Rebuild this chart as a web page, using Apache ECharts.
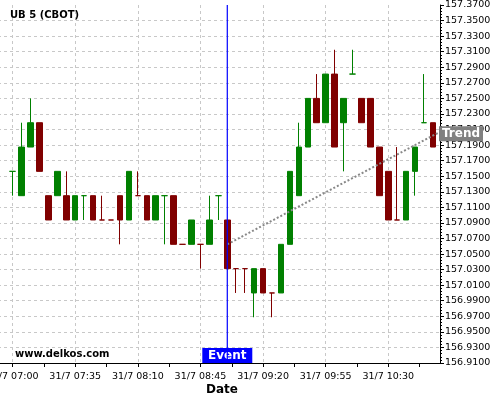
<!DOCTYPE html>
<html>
<head>
<meta charset="utf-8">
<script src="https://cdn.jsdelivr.net/npm/echarts@6/dist/echarts.min.js"></script>
<style>
  html, body { margin: 0; padding: 0; background: #fff; overflow: hidden; }
  /* plot starts left of the window so the 07:00 bar sits 10px in */
  #chart { width: 553px; height: 400px; margin-left: -53px; }
</style>
</head>
<body>
<div id="chart"></div>
<script>
// 5 min bars, label every 7th bar
var timeLabels = ['31/7 07:00', '31/7 07:35', '31/7 08:10', '31/7 08:45', '31/7 09:20', '31/7 09:55', '31/7 10:30']

var opens = [
  157.15625, 157.125, 157.1875, 157.21875, 157.125, 157.125, 157.125, 157.09375,
  157.125, 157.125, 157.09375, 157.09375, 157.125, 157.09375, 157.125, 157.125,
  157.09375, 157.125, 157.125, 157.0625, 157.0625, 157.0625, 157.0625, 157.125,
  157.09375, 157.03125, 157.03125, 157.0, 157.03125, 157.0, 157.0, 157.0625,
  157.125, 157.1875, 157.25, 157.21875, 157.28125, 157.21875, 157.28125, 157.25,
  157.25, 157.1875, 157.15625, 157.09375, 157.09375, 157.15625, 157.21875, 157.21875
]
var closes = [
  157.15625, 157.1875, 157.21875, 157.15625, 157.09375, 157.15625, 157.09375, 157.125,
  157.125, 157.09375, 157.09375, 157.09375, 157.09375, 157.15625, 157.125, 157.09375,
  157.125, 157.125, 157.0625, 157.0625, 157.09375, 157.0625, 157.09375, 157.125,
  157.03125, 157.03125, 157.03125, 157.03125, 157.0, 157.0, 157.0625, 157.15625,
  157.1875, 157.25, 157.21875, 157.28125, 157.1875, 157.25, 157.28125, 157.21875,
  157.1875, 157.125, 157.09375, 157.09375, 157.15625, 157.1875, 157.21875, 157.1875
]
var lows = [
  157.125, 157.125, 157.1875, 157.15625, 157.09375, 157.125, 157.09375, 157.09375,
  157.09375, 157.09375, 157.09375, 157.09375, 157.0625, 157.09375, 157.125, 157.09375,
  157.09375, 157.0625, 157.0625, 157.0625, 157.0625, 157.03125, 157.0625, 157.09375,
  157.03125, 157.0, 157.0, 156.96875, 157.0, 156.96875, 157.0, 157.0625,
  157.125, 157.1875, 157.21875, 157.21875, 157.1875, 157.15625, 157.28125, 157.21875,
  157.1875, 157.125, 157.09375, 157.09375, 157.09375, 157.125, 157.21875, 157.1875
]
var highs = [
  157.15625, 157.21875, 157.25, 157.21875, 157.125, 157.15625, 157.15625, 157.125,
  157.125, 157.125, 157.125, 157.09375, 157.125, 157.15625, 157.15625, 157.125,
  157.125, 157.125, 157.125, 157.0625, 157.09375, 157.0625, 157.125, 157.125,
  157.09375, 157.03125, 157.03125, 157.03125, 157.03125, 157.0, 157.0625, 157.15625,
  157.21875, 157.25, 157.28125, 157.28125, 157.3125, 157.25, 157.3125, 157.25,
  157.25, 157.1875, 157.15625, 157.1875, 157.15625, 157.1875, 157.28125, 157.21875
]
// bars with open == close drawn green in the source
var dojiUp = [0, 8, 17, 23, 38, 46]

var eventBar = 24
var trendStart = [24, 157.0625]
var trendEnd = [47.78, 157.207]

var yMin = 156.91
var yMax = 157.37

var UP = '#008000'
var DOWN = '#800000'
var FONT = 'DejaVu Sans'
var SHIFT = 53 // px of the chart hidden left of the window

var candles = opens.map(function(o, i) {
  var item = { value: [i, o, closes[i], lows[i], highs[i]] }
  if (o === closes[i]) {
    var c = dojiUp.indexOf(i) >= 0 ? UP : DOWN
    item.itemStyle = { color: c, color0: c, borderColor: c, borderColor0: c, borderColorDoji: c }
  }
  return item
})

function timeLabel(v) {
  var k = v / 7
  if (v < 0 || Math.abs(k - Math.round(k)) > 1e-6) return ''
  return timeLabels[Math.round(k)] || ''
}

var chart = echarts.init(document.getElementById('chart'))
chart.setOption({
  animation: false,
  backgroundColor: '#fff',
  title: [
    { text: 'UB 5 (CBOT)', left: SHIFT + 10, top: 10, padding: 0,
      textStyle: { fontFamily: FONT, fontSize: 10, fontWeight: 'bold', color: '#000' } },
    { text: 'www.delkos.com', left: SHIFT + 15, top: 349, padding: 0,
      textStyle: { fontFamily: FONT, fontSize: 10, fontWeight: 'bold', color: '#000' } },
    { text: 'Date', left: SHIFT + 206, top: 384, padding: 0,
      textStyle: { fontFamily: FONT, fontSize: 12, fontWeight: 'bold', color: '#000' } }
  ],
  grid: { left: 0, right: 60, top: 5, bottom: 37 },
  xAxis: [
    {
      type: 'value',
      min: -7,
      max: trendEnd[0],
      interval: 3.5,
      axisLine: { onZero: false, lineStyle: { color: '#000', width: 1 } },
      axisTick: { length: 4, lineStyle: { color: '#000' } },
      axisLabel: { formatter: timeLabel, margin: 9, color: '#000', fontFamily: FONT, fontSize: 9.5, showMaxLabel: false },
      splitLine: { show: false }
    },
    {
      type: 'value',
      min: -7,
      max: trendEnd[0],
      interval: 7,
      axisLine: { show: false, onZero: false },
      axisTick: { show: false },
      axisLabel: { show: false },
      splitLine: { show: true, lineStyle: { color: '#c8c8c8', type: [3, 3] } }
    }
  ],
  yAxis: {
    type: 'value',
    position: 'right',
    min: yMin,
    max: yMax,
    interval: 0.02,
    axisLine: { show: true, onZero: false, lineStyle: { color: '#000', width: 1 } },
    axisTick: { show: true, length: 4, lineStyle: { color: '#000' } },
    minorTick: { show: true, splitNumber: 5, length: 2, lineStyle: { color: '#000' } },
    axisLabel: {
      margin: 5, color: '#000', fontFamily: FONT, fontSize: 9.5,
      formatter: function(v) { return v.toFixed(4) }
    },
    splitLine: { show: true, showMaxLine: false, lineStyle: { color: '#c8c8c8', type: [3, 3] } }
  },
  series: [
    {
      type: 'candlestick',
      xAxisIndex: 0,
      barWidth: 6,
      data: candles,
      itemStyle: {
        color: UP, color0: DOWN, borderColor: UP, borderColor0: DOWN, borderWidth: 1
      }
    },
    {
      // event marker
      type: 'line',
      xAxisIndex: 0,
      data: [[eventBar, yMin], [eventBar, yMax]],
      symbol: 'none',
      z: 5,
      lineStyle: { color: '#0000ff', width: 1.2, type: 'solid' },
      markPoint: {
        silent: true,
        data: [{
          coord: [eventBar, yMin],
          symbol: 'rect',
          symbolSize: [50, 15],
          symbolOffset: [0, -7.5],
          itemStyle: { color: '#0000ff' },
          label: {
            show: true, position: 'inside', formatter: 'Event',
            color: '#fff', fontFamily: FONT, fontSize: 12, fontWeight: 'bold'
          }
        }]
      }
    },
    {
      type: 'line',
      xAxisIndex: 0,
      data: [trendStart, trendEnd],
      symbol: 'none',
      z: 4,
      lineStyle: { color: '#888888', width: 2, type: [2, 2] },
      markPoint: {
        silent: true,
        data: [{
          coord: trendEnd,
          symbol: 'rect',
          symbolSize: [44, 15],
          symbolOffset: [21, 2],
          itemStyle: { color: '#808080' },
          label: {
            show: true, position: 'inside', formatter: 'Trend',
            color: '#fff', fontFamily: FONT, fontSize: 12, fontWeight: 'bold'
          }
        }]
      }
    }
  ]
})
</script>
</body>
</html>
